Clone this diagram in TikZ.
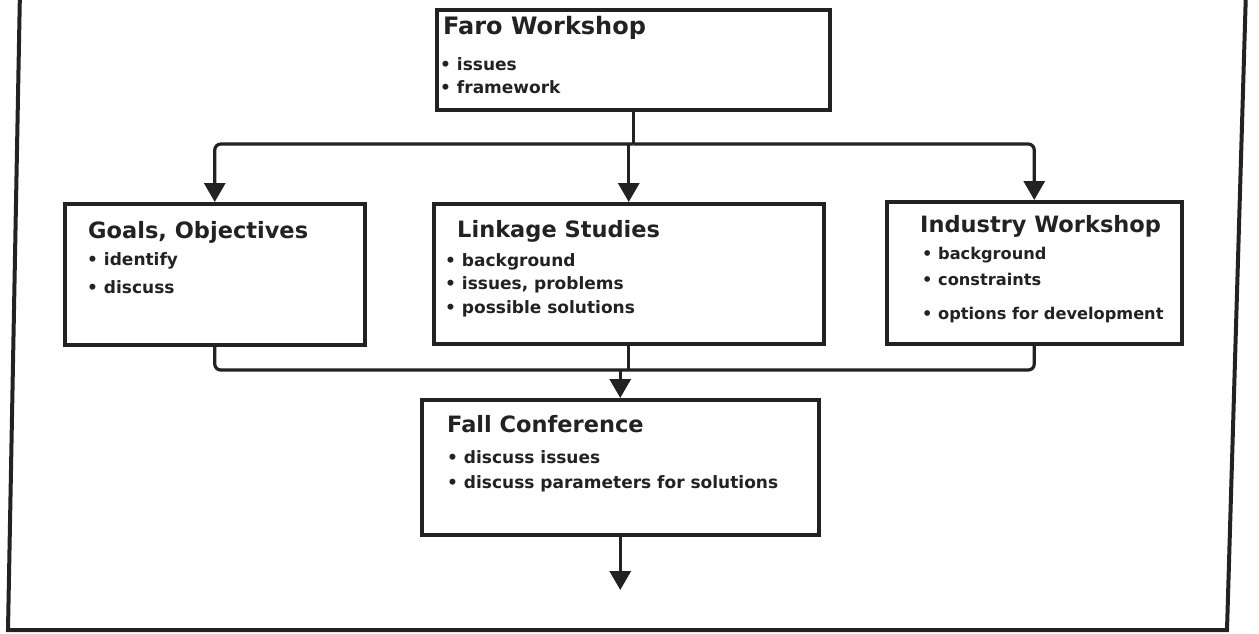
\documentclass[tikz,border=0pt]{standalone}
\usepackage{fontspec}
\setmainfont{DejaVu Sans}
\usetikzlibrary{arrows.meta,calc}
\definecolor{ink}{HTML}{222222}
\tikzset{
  box/.style={draw=ink, line width=3.5pt, anchor=north west, inner sep=0pt},
  ttl/.style={anchor=base west, inner sep=0pt, text=ink, font=\bfseries\fontsize{22.5}{26}\selectfont},
  blt/.style={anchor=base west, inner sep=0pt, text=ink, font=\bfseries\fontsize{17}{20}\selectfont},
  bltsm/.style={blt, font=\bfseries\fontsize{16.2}{19}\selectfont},
  wire/.style={draw=ink, line width=3.2pt},
  arr/.style={wire, -{Triangle[width=21pt,length=19pt]}},
}
\begin{document}
\begin{tikzpicture}[x=1pt,y=-1pt]
\useasboundingbox (0,0) rectangle (1259,633);
% outer frame
\draw[draw=ink, line width=4pt] (20,-10) -- (8,630) -- (1227,630) -- (1246,-10);

% boxes
\node[box, minimum width=393pt, minimum height=100pt] (faro) at (435,8) {};
\node[box, minimum width=300pt, minimum height=141pt] (goals) at (63,202) {};
\node[box, minimum width=390pt, minimum height=140pt] (link) at (432,202) {};
\node[box, minimum width=295pt, minimum height=142pt] (ind) at (885,200) {};
\node[box, minimum width=397pt, minimum height=135pt] (fall) at (420,398) {};

% texts
\node[ttl, font=\bfseries\fontsize{24}{28}\selectfont] (faroT) at (443,34) {Faro Workshop};
\node[blt] (faro1) at (440,70) {• issues};
\node[blt] (faro2) at (440,93) {• framework};

\node[ttl] (goalsT) at (88,238) {Goals, Objectives};
\node[blt] (goals1) at (87,265) {• identify};
\node[blt] (goals2) at (87,293) {• discuss};

\node[ttl] (linkT) at (457,237) {Linkage Studies};
\node[blt] (link1) at (445,266) {• background};
\node[blt] (link2) at (445,289) {• issues, problems};
\node[blt] (link3) at (445,313) {• possible solutions};

\node[ttl] (indT) at (920,232) {Industry Workshop};
\node[bltsm] (ind1) at (922,259) {• background};
\node[bltsm] (ind2) at (922,285) {• constraints};
\node[bltsm] (ind3) at (922,319) {• options for development};

\node[ttl] (fallT) at (447,432) {Fall Conference};
\node[blt] (fall1) at (447,463) {• discuss issues};
\node[blt] (fall2) at (447,488) {• discuss parameters for solutions};

% connectors
\coordinate (split) at (faro.south |- 0,144);
\coordinate (merge) at (link.south |- 0,370);
\coordinate (out) at (fall.south |- 0,590);
\draw[wire] (faro.south) -- (split);
\draw[arr, rounded corners=6pt] (split) -| (goals.north);
\draw[arr, rounded corners=6pt] (split) -| (ind.north);
\draw[arr] (link.north |- split) -- (link.north);
\draw[wire, rounded corners=6pt] (goals.south) |- (merge) -| (ind.south);
\draw[wire] (link.south) -- (merge);
\draw[arr] (fall.north |- merge) -- (fall.north);
\draw[arr] (fall.south) -- (out);
\end{tikzpicture}
\end{document}
